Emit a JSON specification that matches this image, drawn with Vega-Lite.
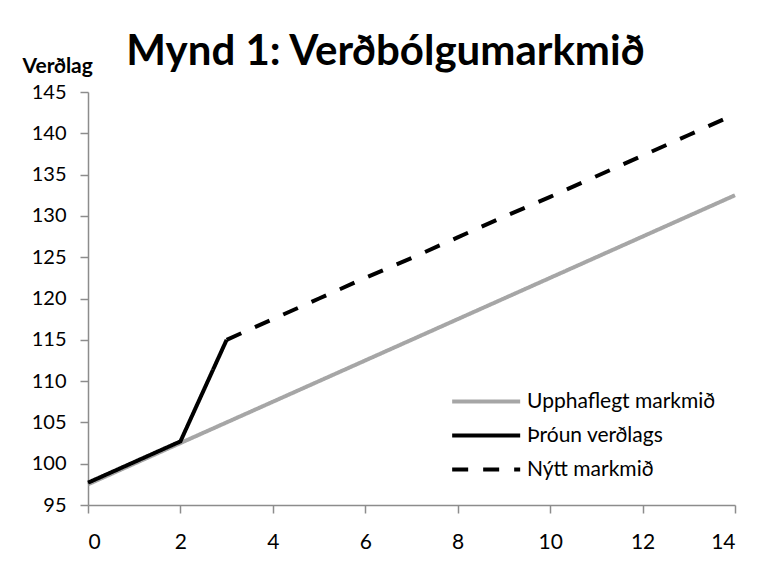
{
  "$schema": "https://vega.github.io/schema/vega-lite/v6.json",
  "autosize": {"type": "none"},
  "width": 647,
  "height": 413,
  "padding": {"left": 88, "top": 92, "right": 33, "bottom": 62},
  "background": "white",
  "title": {
    "text": "Mynd 1: Verðbólgumarkmið",
    "font": "Lato",
    "fontSize": 42,
    "fontWeight": "bold",
    "color": "black",
    "anchor": "middle",
    "dx": -26,
    "dy": 27,
    "offset": 8
  },
  "data": {
    "values": [
      {"series": "Upphaflegt markmið", "x": 0, "y": 97.5},
      {"series": "Upphaflegt markmið", "x": 1, "y": 100},
      {"series": "Upphaflegt markmið", "x": 2, "y": 102.5},
      {"series": "Upphaflegt markmið", "x": 3, "y": 105},
      {"series": "Upphaflegt markmið", "x": 4, "y": 107.5},
      {"series": "Upphaflegt markmið", "x": 5, "y": 110},
      {"series": "Upphaflegt markmið", "x": 6, "y": 112.5},
      {"series": "Upphaflegt markmið", "x": 7, "y": 115},
      {"series": "Upphaflegt markmið", "x": 8, "y": 117.5},
      {"series": "Upphaflegt markmið", "x": 9, "y": 120},
      {"series": "Upphaflegt markmið", "x": 10, "y": 122.5},
      {"series": "Upphaflegt markmið", "x": 11, "y": 125},
      {"series": "Upphaflegt markmið", "x": 12, "y": 127.5},
      {"series": "Upphaflegt markmið", "x": 13, "y": 130},
      {"series": "Upphaflegt markmið", "x": 14, "y": 132.5},
      {"series": "Þróun verðlags", "x": 0, "y": 97.7},
      {"series": "Þróun verðlags", "x": 1, "y": 100.2},
      {"series": "Þróun verðlags", "x": 2, "y": 102.7},
      {"series": "Þróun verðlags", "x": 3, "y": 115},
      {"series": "Nýtt markmið", "x": 3, "y": 115},
      {"series": "Nýtt markmið", "x": 4, "y": 117.5},
      {"series": "Nýtt markmið", "x": 5, "y": 120},
      {"series": "Nýtt markmið", "x": 6, "y": 122.5},
      {"series": "Nýtt markmið", "x": 7, "y": 124.9},
      {"series": "Nýtt markmið", "x": 8, "y": 127.4},
      {"series": "Nýtt markmið", "x": 9, "y": 129.9},
      {"series": "Nýtt markmið", "x": 10, "y": 132.3},
      {"series": "Nýtt markmið", "x": 11, "y": 134.8},
      {"series": "Nýtt markmið", "x": 12, "y": 137.3},
      {"series": "Nýtt markmið", "x": 13, "y": 139.8},
      {"series": "Nýtt markmið", "x": 14, "y": 142.3}
    ]
  },
  "mark": {"type": "line", "strokeWidth": 4, "strokeCap": "butt"},
  "encoding": {
    "x": {
      "field": "x",
      "type": "quantitative",
      "scale": {"domain": [0, 14], "nice": false, "zero": false},
      "axis": {
        "values": [0, 2, 4, 6, 8, 10, 12, 14],
        "title": null,
        "grid": false,
        "labelFont": "Lato",
        "labelFontSize": 21,
        "labelColor": "black",
        "labelPadding": 18,
        "tickSize": 8,
        "tickColor": "#8c8c8c",
        "domainColor": "#8c8c8c",
        "domainWidth": 1.5,
        "tickWidth": 1.5
      }
    },
    "y": {
      "field": "y",
      "type": "quantitative",
      "scale": {"domain": [95, 145], "nice": false, "zero": false},
      "axis": {
        "values": [95, 100, 105, 110, 115, 120, 125, 130, 135, 140, 145],
        "title": "Verðlag",
        "titleAngle": 0,
        "titleAlign": "left",
        "titleBaseline": "alphabetic",
        "titleX": -66,
        "titleY": -20,
        "titleFont": "Lato",
        "titleFontSize": 21,
        "titleFontWeight": "bold",
        "titleColor": "black",
        "grid": false,
        "labelFont": "Lato",
        "labelFontSize": 20,
        "labelColor": "black",
        "labelPadding": 14,
        "tickSize": 8,
        "tickColor": "#8c8c8c",
        "domainColor": "#8c8c8c",
        "domainWidth": 1.5,
        "tickWidth": 1.5
      }
    },
    "color": {
      "field": "series",
      "type": "nominal",
      "scale": {
        "domain": ["Upphaflegt markmið", "Þróun verðlags", "Nýtt markmið"],
        "range": ["#a6a6a6", "#000000", "#000000"]
      },
      "legend": {
        "title": null,
        "orient": "none",
        "legendX": 362,
        "legendY": 296,
        "symbolType": "M-1,0H5",
        "symbolSize": 514,
        "symbolStrokeWidth": 4,
        "labelFont": "Lato",
        "labelFontSize": 21,
        "labelColor": "black",
        "labelOffset": 50,
        "labelLimit": 400,
        "rowPadding": 10,
        "padding": 0
      }
    },
    "strokeDash": {
      "field": "series",
      "type": "nominal",
      "scale": {
        "domain": ["Upphaflegt markmið", "Þróun verðlags", "Nýtt markmið"],
        "range": [[1, 0], [1, 0], [16, 15]]
      },
      "legend": {
        "title": null,
        "orient": "none",
        "legendX": 362,
        "legendY": 296,
        "symbolType": "M-1,0H5",
        "symbolSize": 514,
        "symbolStrokeWidth": 4,
        "labelFont": "Lato",
        "labelFontSize": 21,
        "labelColor": "black",
        "labelOffset": 50,
        "labelLimit": 400,
        "rowPadding": 10,
        "padding": 0
      }
    }
  },
  "config": {"view": {"stroke": null}}
}
